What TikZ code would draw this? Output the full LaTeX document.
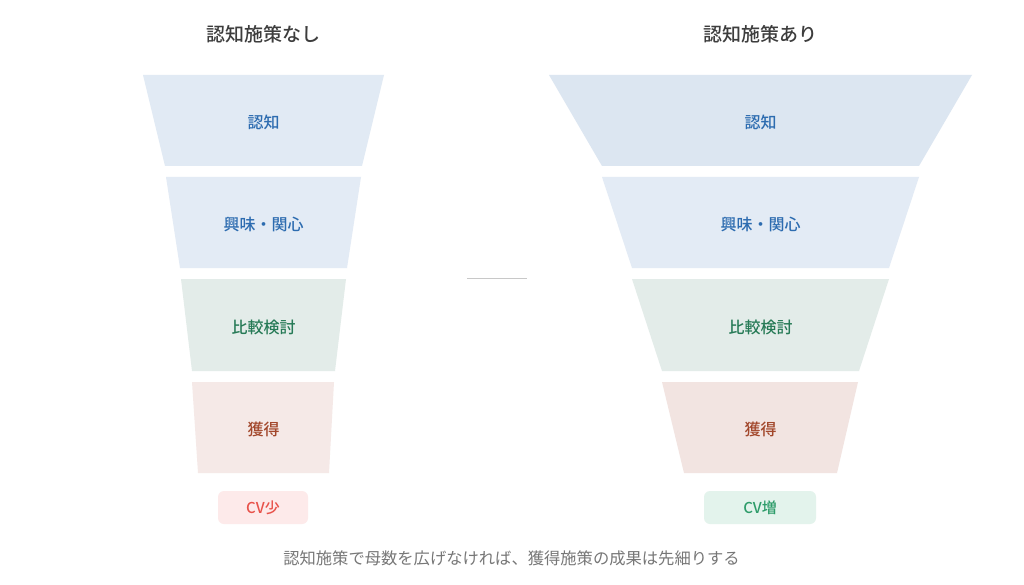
\documentclass[tikz,border=0pt]{standalone}
\usepackage{fontspec}
\newfontfamily\jp{Noto Sans CJK JP}
\newfontfamily\jpm{Noto Sans CJK JP Medium}
\definecolor{lOne}{HTML}{E1EAF4}
\definecolor{rOne}{HTML}{DCE6F1}
\definecolor{lTwo}{HTML}{E3EBF5}
\definecolor{lThree}{HTML}{E3ECE9}
\definecolor{lFour}{HTML}{F5E9E7}
\definecolor{rFour}{HTML}{F2E4E1}
\definecolor{tBlue}{HTML}{2D6CB0}
\definecolor{tGreen}{HTML}{267A56}
\definecolor{tBrown}{HTML}{A2472B}
\definecolor{cvRedF}{HTML}{FDEAEA}
\definecolor{cvRedT}{HTML}{E8524A}
\definecolor{cvGrnF}{HTML}{E3F3EC}
\definecolor{cvGrnT}{HTML}{2E9C6A}
\definecolor{titleC}{HTML}{3D3D3D}
\definecolor{noteC}{HTML}{777777}
\definecolor{sepC}{HTML}{C8C8C8}
\begin{document}
\begin{tikzpicture}[x=1pt,y=-1pt,
  lab/.style={font=\jpm\fontsize{16}{19}\selectfont},
  ttl/.style={font=\jpm\fontsize{19}{23}\selectfont, text=titleC},
  cvbox/.style={rounded corners=6pt, minimum width=#1, minimum height=33pt, inner sep=0pt, font=\jpm\fontsize{15}{18}\selectfont}]
\useasboundingbox (0,0) rectangle (1024,585);
\fill[white] (0,0) rectangle (1024,585);
% titles
\node[ttl] (tl) at (263.5,34) {認知施策なし};
\node[ttl] (tr) at (760.5,34) {認知施策あり};
% left funnel
\fill[lOne] (143,75) -- (384,75) -- (362,166) -- (165,166) -- cycle;
\node[lab, text=tBlue] (l1) at (263.5,122) {認知};
\fill[lTwo] (166,177) -- (361,177) -- (347,268) -- (180,268) -- cycle;
\node[lab, text=tBlue] (l2) at (263.5,224) {興味・関心};
\fill[lThree] (181,279) -- (346,279) -- (335,371) -- (192,371) -- cycle;
\node[lab, text=tGreen] (l3) at (263.5,327) {比較検討};
\fill[lFour] (192,382) -- (334,382) -- (329,473) -- (198,473) -- cycle;
\node[lab, text=tBrown] (l4) at (263.5,429) {獲得};
\node[cvbox=90pt, fill=cvRedF, text=cvRedT] (cvl) at (263,507.5) {CV少};
% right funnel
\fill[rOne] (549,75) -- (972,75) -- (919,166) -- (602,166) -- cycle;
\node[lab, text=tBlue] (r1) at (760.5,122) {認知};
\fill[lTwo] (602,177) -- (919,177) -- (889,268) -- (632,268) -- cycle;
\node[lab, text=tBlue] (r2) at (760.5,224) {興味・関心};
\fill[lThree] (632,279) -- (889,279) -- (859,371) -- (662,371) -- cycle;
\node[lab, text=tGreen] (r3) at (760.5,327) {比較検討};
\fill[rFour] (662,382) -- (858,382) -- (837,473) -- (684,473) -- cycle;
\node[lab, text=tBrown] (r4) at (760.5,429) {獲得};
\node[cvbox=112pt, fill=cvGrnF, text=cvGrnT] (cvr) at (760,507.5) {CV増};
% separator
\coordinate (sa) at (467,278.5);
\coordinate (sb) at (527,278.5);
\draw[sepC, line width=1.5pt] (sa) -- (sb);
% note
\node[font=\jp\fontsize{16.3}{19}\selectfont, text=noteC] (note) at (511.5,558) {認知施策で母数を広げなければ、獲得施策の成果は先細りする};
\end{tikzpicture}
\end{document}
